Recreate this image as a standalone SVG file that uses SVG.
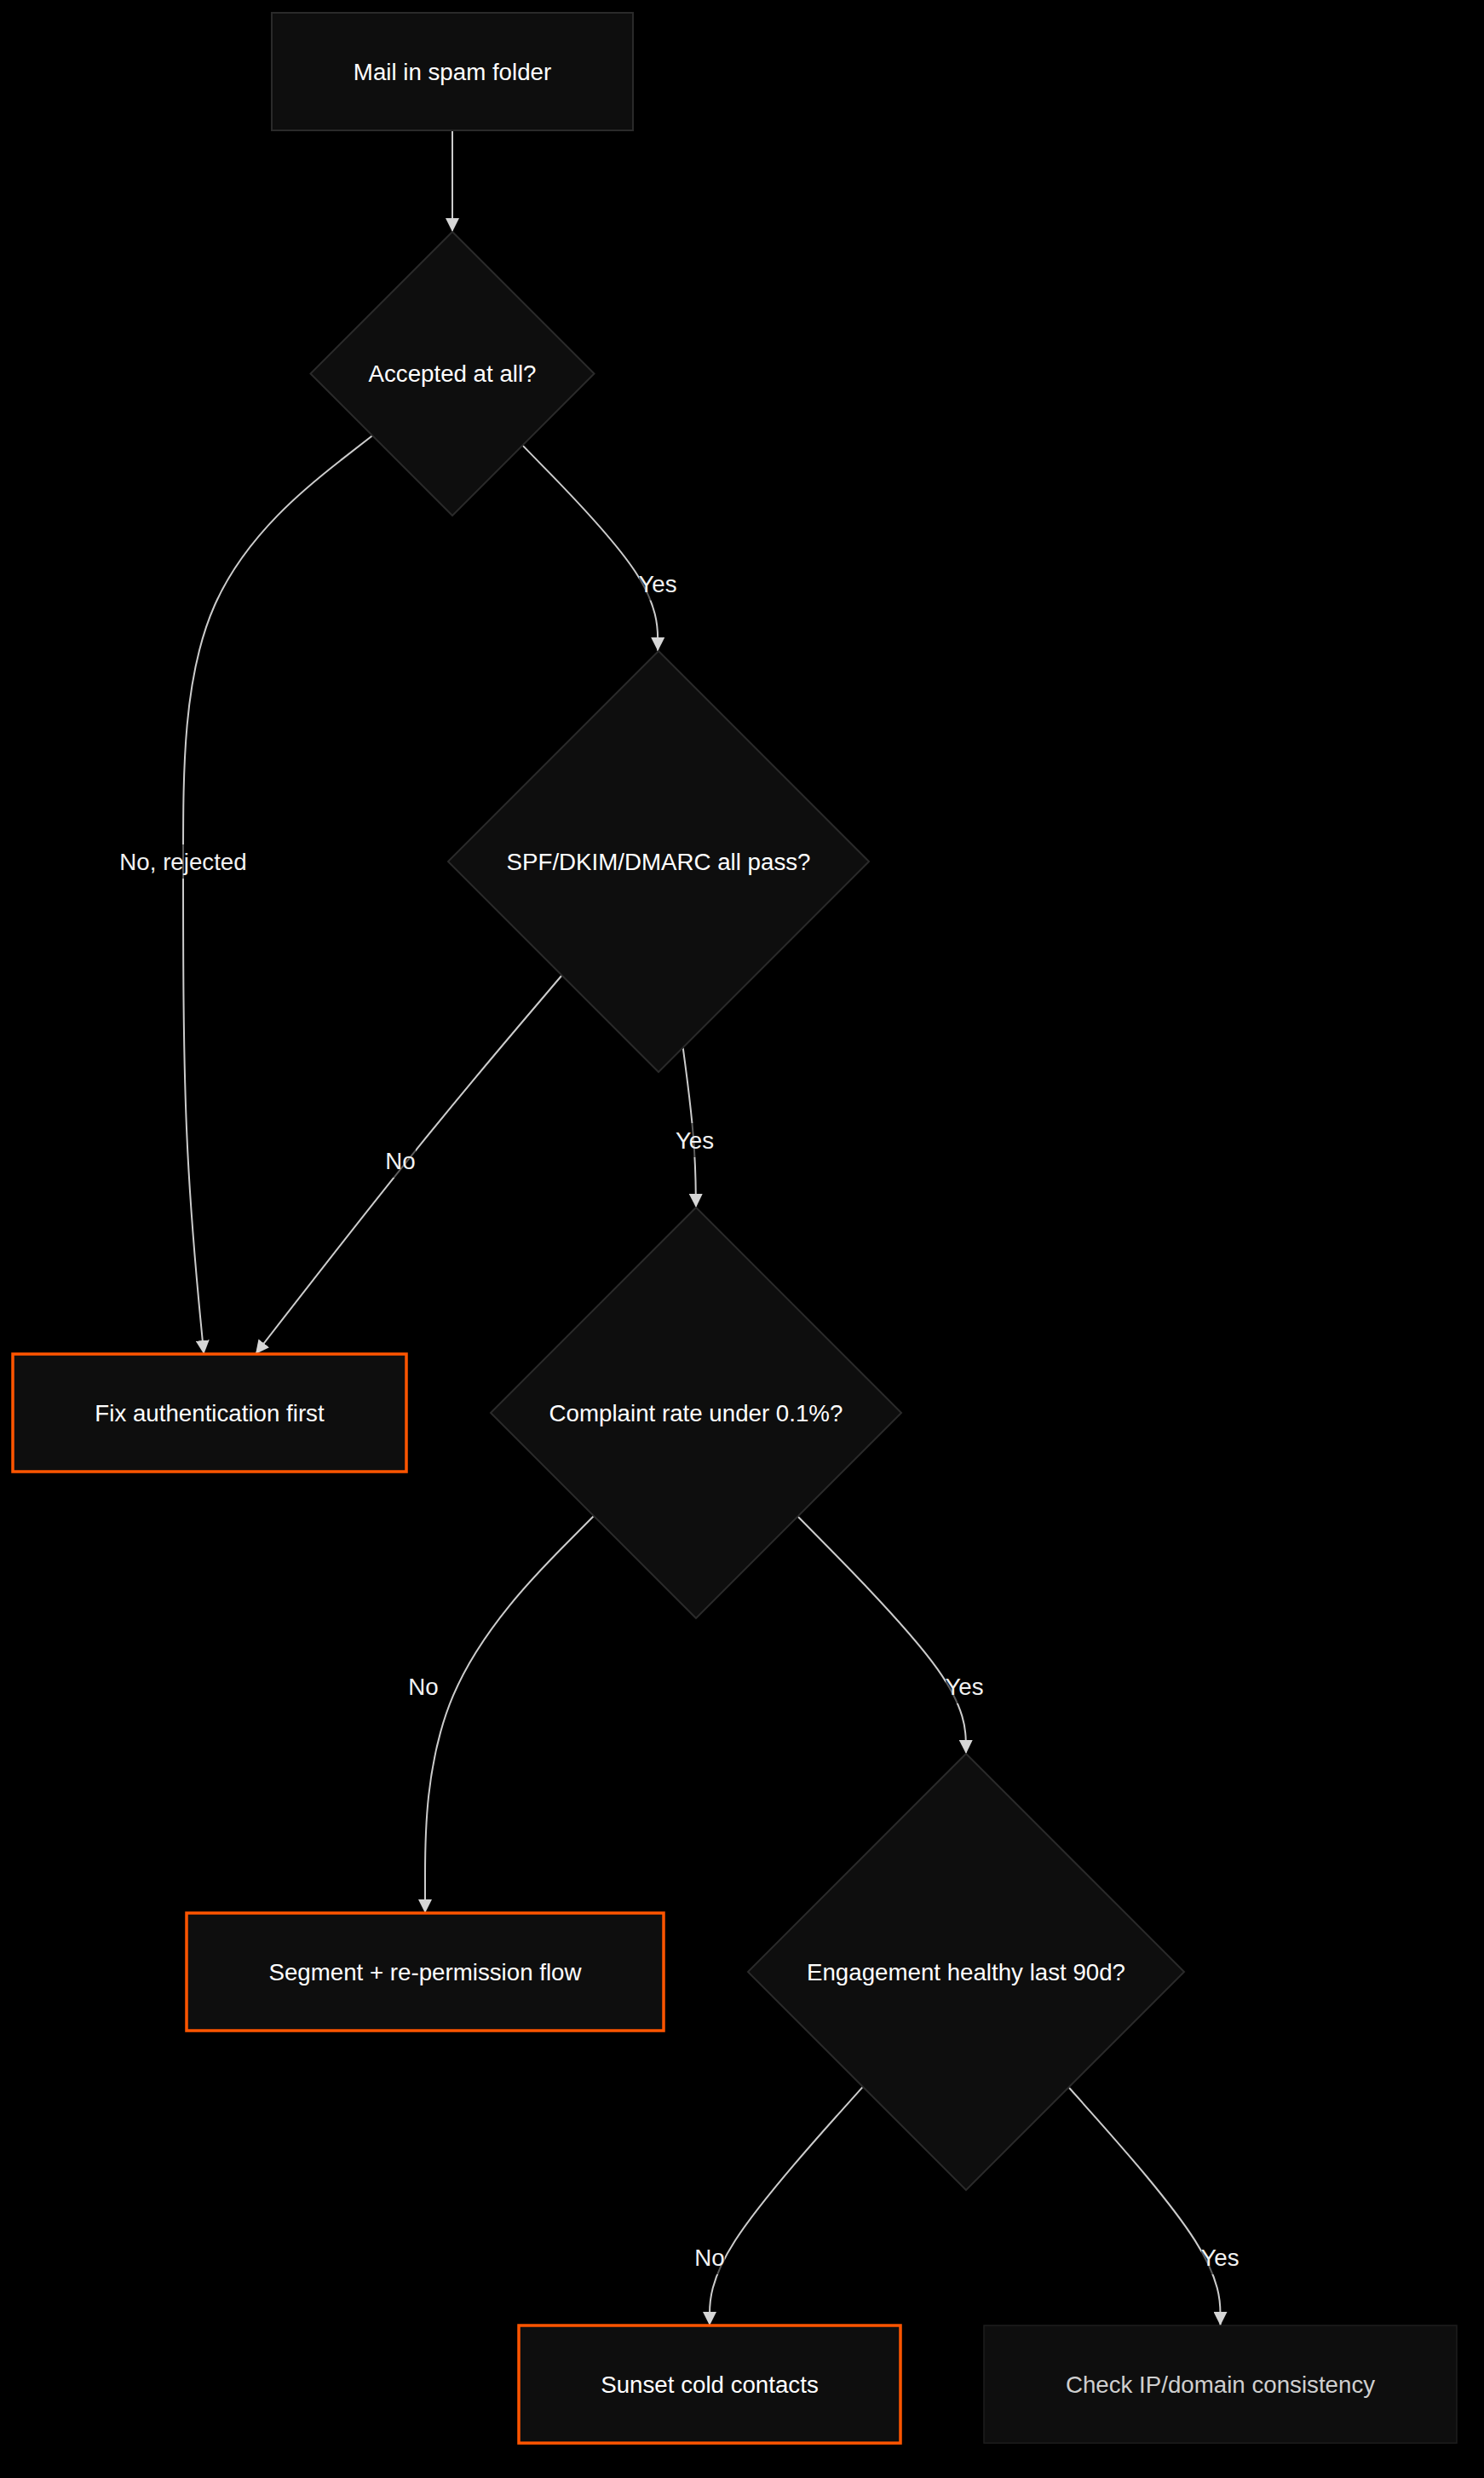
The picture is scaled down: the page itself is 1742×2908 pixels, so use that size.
<svg xmlns="http://www.w3.org/2000/svg" width="1742" height="2908" viewBox="0 0 1742 2908">
<style>
  .bg { fill: #000000; }
  .node rect, .node polygon { fill: #0e0e0e; stroke: #2a2a2a; stroke-width: 2; }
  .node.alert rect { stroke: #ff5500; stroke-width: 3.5; }
  .node.muted rect { stroke: #1e1e1e; stroke-width: 1.5; }
  .node text { font-family: "Liberation Sans", Arial, sans-serif; font-size: 27.7px; fill: #ffffff; text-anchor: middle; }
  .node.muted text { fill: #cfcfcf; }
  .edge { fill: none; stroke: #cccccc; stroke-width: 2; }
  .elabel rect { fill: #000000; fill-opacity: 0.55; }
  .elabel text { font-family: "Liberation Sans", Arial, sans-serif; font-size: 27.7px; fill: #f2f2f2; text-anchor: middle; }
</style>
<defs>
  <marker id="arrow" viewBox="0 0 10 10" refX="10" refY="5" markerWidth="16" markerHeight="16" markerUnits="userSpaceOnUse" orient="auto">
    <path d="M0,0 L10,5 L0,10 z" fill="#d6d6d6"/>
  </marker>
</defs>
<rect class="bg" x="0" y="0" width="1742" height="2908"/>

<g id="connectors">
  <path class="edge" marker-end="url(#arrow)" d="M531,153 L531,272"/>
  <path class="edge" marker-end="url(#arrow)" d="M437.4,511 L400.3,539.9 C363.3,568.8 289.1,626.7 252.1,710 C215,793.3 215,902.2 215,1011.1 C215,1120 215,1229 219.05,1325.3 C223.1,1421.7 231.2,1505.3 235.25,1547.2 L239.3,1589"/>
  <path class="edge" marker-end="url(#arrow)" d="M613.4,522.6 L639.8,549.6 C666.3,576.6 719.1,630.5 745.6,670.8 C772.1,711 772.1,737.5 772.2,750.75 L772.2,764"/>
  <path class="edge" marker-end="url(#arrow)" d="M659.6,1144.5 L632.2,1176.75 C604.7,1209 549.9,1273.5 489.9,1347.6 C430,1421.7 365,1505.3 332.5,1547.2 L300,1589"/>
  <path class="edge" marker-end="url(#arrow)" d="M801.7,1229.3 L804.1,1247.4 C806.5,1265.5 811.2,1301.8 813.8,1333 C816.3,1364.3 816.7,1390.7 816.8,1403.8 L817,1417"/>
  <path class="edge" marker-end="url(#arrow)" d="M697,1779 L664,1812.25 C631,1845.5 565,1912 532,1989.7 C499,2067.3 499,2156.2 499,2200.6 L499,2245"/>
  <path class="edge" marker-end="url(#arrow)" d="M936.4,1779.5 L969.2,1812.7 C1001.9,1845.8 1067.5,1912.2 1100.4,1958.6 C1133.3,2005 1133.7,2031.5 1133.8,2044.75 L1134,2058"/>
  <path class="edge" marker-end="url(#arrow)" d="M1012.9,2448.9 L982.9,2482.3 C952.9,2515.8 893,2582.6 863,2629.3 C833,2676 833,2702.5 833,2715.75 L833,2729"/>
  <path class="edge" marker-end="url(#arrow)" d="M1254.5,2449.5 L1284.2,2482.8 C1313.8,2516.2 1373.2,2582.8 1402.8,2629.4 C1432.5,2676 1432.5,2702.5 1432.5,2715.75 L1432.5,2729"/>

  <g class="elabel"><rect x="750" y="664.5" width="44" height="40"/><text x="772" y="694.5">Yes</text></g>
  <g class="elabel"><rect x="141" y="991" width="148" height="40"/><text x="215" y="1021">No, rejected</text></g>
  <g class="elabel"><rect x="452" y="1342" width="36" height="40"/><text x="470" y="1372">No</text></g>
  <g class="elabel"><rect x="793.5" y="1318" width="44" height="40"/><text x="815.5" y="1348">Yes</text></g>
  <g class="elabel"><rect x="479" y="1959" width="36" height="40"/><text x="497" y="1989">No</text></g>
  <g class="elabel"><rect x="1110" y="1959" width="44" height="40"/><text x="1132" y="1989">Yes</text></g>
  <g class="elabel"><rect x="815" y="2629" width="36" height="40"/><text x="833" y="2659">No</text></g>
  <g class="elabel"><rect x="1410" y="2629" width="44" height="40"/><text x="1432" y="2659">Yes</text></g>
</g>

<g id="n-start" class="node">
  <rect x="319" y="15" width="424" height="138"/>
  <text x="531" y="93.5">Mail in spam folder</text>
</g>
<g id="n-accepted" class="node">
  <polygon points="531,272 697.5,438.5 531,605 364.5,438.5"/>
  <text x="531" y="448">Accepted at all?</text>
</g>
<g id="n-auth" class="node">
  <polygon points="773,764 1020,1011 773,1258 526,1011"/>
  <text x="773" y="1020.5">SPF/DKIM/DMARC all pass?</text>
</g>
<g id="n-fixauth" class="node alert">
  <rect x="15" y="1589" width="462" height="138"/>
  <text x="246" y="1667.5">Fix authentication first</text>
</g>
<g id="n-complaint" class="node">
  <polygon points="817,1417 1058,1658 817,1899 576,1658"/>
  <text x="817" y="1667.5">Complaint rate under 0.1%?</text>
</g>
<g id="n-segment" class="node alert">
  <rect x="219" y="2245" width="560" height="138"/>
  <text x="499" y="2323.5">Segment + re-permission flow</text>
</g>
<g id="n-engagement" class="node">
  <polygon points="1134,2058 1390,2314 1134,2570 878,2314"/>
  <text x="1134" y="2323.5">Engagement healthy last 90d?</text>
</g>
<g id="n-sunset" class="node alert">
  <rect x="609" y="2729" width="448" height="138"/>
  <text x="833" y="2807.5">Sunset cold contacts</text>
</g>
<g id="n-checkip" class="node muted">
  <rect x="1155" y="2729" width="555" height="138"/>
  <text x="1432.5" y="2807.5">Check IP/domain consistency</text>
</g>
</svg>
